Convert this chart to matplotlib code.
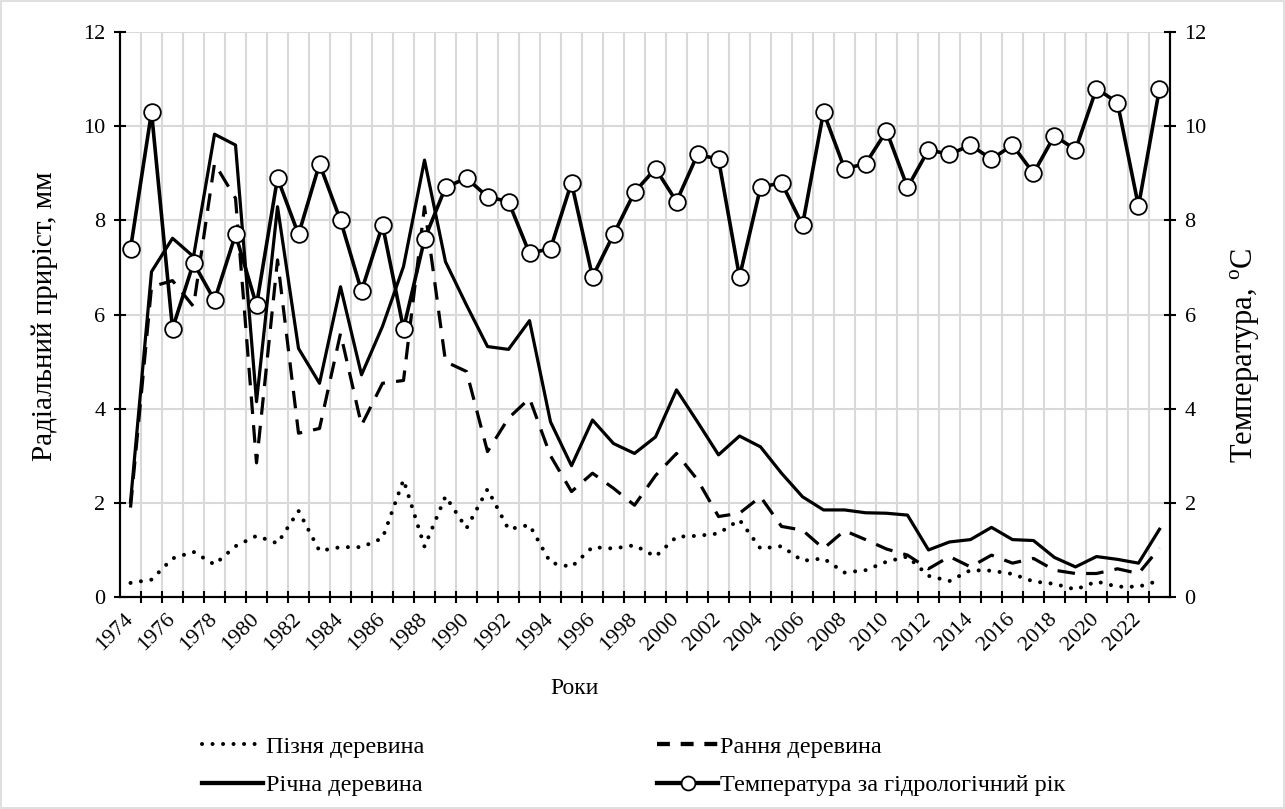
import matplotlib
matplotlib.use("Agg")
import matplotlib.pyplot as plt
from matplotlib.lines import Line2D
from matplotlib.patches import Rectangle

years = list(range(1974, 2024))

late_wood = [0.30, 0.37, 0.82, 0.96, 0.69, 1.08, 1.30, 1.14, 1.83, 0.98,
             1.06, 1.06, 1.25, 2.49, 1.07, 2.14, 1.46, 2.29, 1.44, 1.53,
             0.73, 0.64, 1.06, 1.03, 1.10, 0.86, 1.28, 1.30, 1.35, 1.64,
             1.03, 1.08, 0.77, 0.82, 0.52, 0.57, 0.75, 0.86, 0.45, 0.34,
             0.57, 0.56, 0.49, 0.33, 0.28, 0.16, 0.33, 0.22, 0.22, 0.35]

early_wood = [1.90, 6.59, 6.72, 6.17, 9.21, 8.47, 2.85, 7.16, 3.48, 3.58,
              5.60, 3.65, 4.54, 4.60, 8.29, 5.00, 4.79, 3.09, 3.80, 4.22,
              3.00, 2.24, 2.63, 2.31, 1.95, 2.58, 3.05, 2.49, 1.71, 1.78,
              2.13, 1.50, 1.42, 1.03, 1.41, 1.22, 1.02, 0.89, 0.60, 0.86,
              0.64, 0.89, 0.72, 0.82, 0.57, 0.50, 0.50, 0.60, 0.50, 1.04]

annual_wood = [2.02, 6.91, 7.62, 7.23, 9.83, 9.60, 4.15, 8.29, 5.28, 4.54,
               6.59, 4.72, 5.75, 7.02, 9.28, 7.12, 6.20, 5.32, 5.26, 5.87,
               3.72, 2.79, 3.76, 3.26, 3.05, 3.40, 4.40, 3.72, 3.02, 3.42,
               3.19, 2.63, 2.13, 1.85, 1.85, 1.79, 1.78, 1.74, 1.00, 1.17,
               1.22, 1.48, 1.22, 1.20, 0.84, 0.64, 0.86, 0.80, 0.72, 1.44]

temperature = [7.4, 10.3, 5.7, 7.1, 6.3, 7.7, 6.2, 8.9, 7.7, 9.2,
               8.0, 6.5, 7.9, 5.7, 7.6, 8.7, 8.9, 8.5, 8.4, 7.3,
               7.4, 8.8, 6.8, 7.7, 8.6, 9.1, 8.4, 9.4, 9.3, 6.8,
               8.7, 8.8, 7.9, 10.3, 9.1, 9.2, 9.9, 8.7, 9.5, 9.4,
               9.6, 9.3, 9.6, 9.0, 9.8, 9.5, 10.8, 10.5, 8.3, 10.8]

label_years = list(range(1974, 2023, 2))

plt.rcParams["font.family"] = ["Liberation Serif", "DejaVu Serif"]
plt.rcParams["mathtext.fontset"] = "custom"
plt.rcParams["mathtext.rm"] = "Liberation Serif"

GRID = "#d9d9d9"
LW = 2.3
DOTS = (0, (0.01, 2.6))
DASH = (0, (5.5, 3.5))


def style_axis(ax):
    ax.set_xlim(years[0] - 0.5, years[-1] + 0.5)
    ax.set_ylim(0, 12)
    ax.set_yticks(range(0, 13, 2))
    ax.spines["top"].set_visible(False)
    for side in ("left", "right", "bottom"):
        ax.spines[side].set_linewidth(1.5)
    ax.tick_params(axis="y", direction="inout", length=9, width=1.5, labelsize=16, pad=6)


def main():
    fig = plt.figure(figsize=(12.85, 8.09), dpi=100)
    fig.patches.append(Rectangle((0.001, 0.001), 0.998, 0.998, transform=fig.transFigure,
                                 fill=False, edgecolor=GRID, linewidth=1.2))
    ax = fig.add_axes([0.0934, 0.262, 0.8171, 0.6984])
    style_axis(ax)

    # category boundaries -> gridlines and cross ticks, labels at category centres
    bounds = [y + 0.5 for y in years[:-1]]
    ax.set_xticks(bounds, minor=False)
    ax.set_xticklabels([""] * len(bounds))
    ax.set_xticks(label_years, minor=True)
    ax.set_xticklabels([str(y) for y in label_years], minor=True, rotation=45,
                       ha="right", va="center", rotation_mode="anchor", fontsize=16)
    ax.tick_params(axis="x", which="major", direction="inout", length=9, width=1.5)
    ax.tick_params(axis="x", which="minor", length=0, pad=14)
    ax.grid(True, which="major", color=GRID, linewidth=1.5)
    ax.set_axisbelow(True)

    ax.plot(years, late_wood, color="black", linewidth=LW + 0.6, linestyle=DOTS,
            dash_capstyle="round")
    ax.plot(years, early_wood, color="black", linewidth=LW, linestyle=DASH)
    ax.plot(years, annual_wood, color="black", linewidth=LW)

    ax2 = ax.twinx()
    style_axis(ax2)
    ax2.plot(years, temperature, color="black", linewidth=LW + 0.3, marker="o",
             markersize=12, markerfacecolor="white", markeredgecolor="black",
             markeredgewidth=1.3)

    fig.text(45 / 1285, 1 - 316 / 809, "Радіальний приріст, мм", rotation=90,
             ha="center", va="center", fontsize=21)
    fig.text(1245 / 1285, 1 - 355 / 809, r"Температура, $^{\mathrm{o}}$C", rotation=90,
             ha="center", va="center", fontsize=22)
    fig.text(575 / 1285, 1 - 688 / 809, "Роки", ha="center", va="center", fontsize=17)

    handles = [
        Line2D([], [], color="black", linewidth=LW + 0.6, linestyle=DOTS,
               dash_capstyle="round"),
        Line2D([], [], color="black", linewidth=LW + 0.8),
        Line2D([], [], color="black", linewidth=LW + 0.8, linestyle=(0, (3.0, 2.5))),
        Line2D([], [], color="black", linewidth=LW + 0.8, marker="o", markersize=10,
               markerfacecolor="white", markeredgecolor="black", markeredgewidth=1.3),
    ]
    labels = ["Пізня деревина", "Річна деревина", "Рання деревина",
              "Температура за гідрологічний рік"]
    fig.legend(handles, labels, ncol=2, loc="center", bbox_to_anchor=(0.4934, 1 - 766 / 809),
               frameon=False, fontsize=17.5, handlelength=2.5, handletextpad=0.1,
               columnspacing=9.6, labelspacing=0.66)

    fig.savefig("out.png", dpi=100)
    plt.close(fig)


if __name__ == "__main__":
    main()
